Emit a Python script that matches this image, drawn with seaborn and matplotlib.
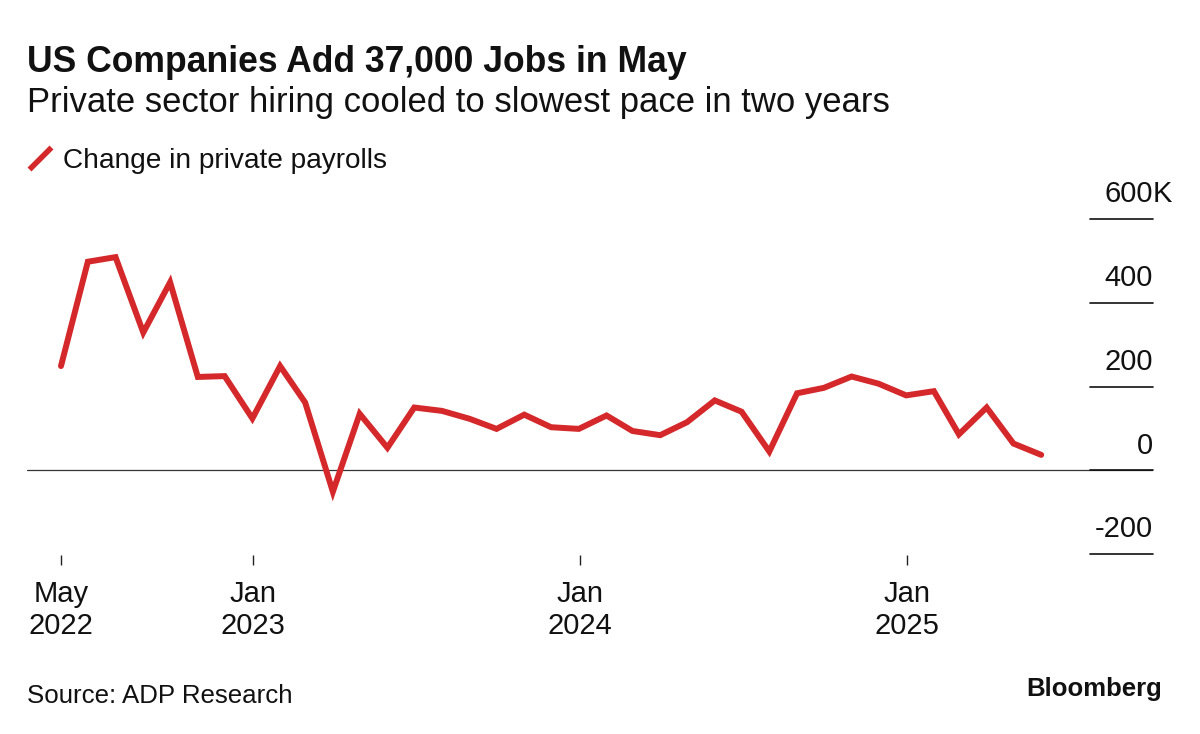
import numpy as np
import pandas as pd
import matplotlib
matplotlib.use("Agg")
import matplotlib.pyplot as plt
import seaborn as sns
from matplotlib.lines import Line2D

# ---------------- data ----------------
start_month = "2022-05-01"
n_months = 37
payroll_k = [249, 498, 509, 329, 449, 223, 225, 124, 249, 162, -51, 135, 54, 150,
             142, 123, 99, 133, 103, 99, 131, 94, 84, 115, 167, 140, 45, 184,
             197, 224, 207, 179, 189, 86, 150, 64, 37]
x_tick_dates = ["2022-05-31", "2023-01-01", "2024-01-01", "2025-01-01"]
x_tick_labels = ["May\n2022", "Jan\n2023", "Jan\n2024", "Jan\n2025"]
y_ticks = [-200, 0, 200, 400, 600]
y_tick_labels = ["-200", "0", "200", "400", "600"]
y_unit_suffix = "K"

title = "US Companies Add 37,000 Jobs in May"
subtitle = "Private sector hiring cooled to slowest pace in two years"
legend_label = "Change in private payrolls"
source = "Source: ADP Research"
brand = "Bloomberg"

RED = "#D5282B"
INK = "#111111"

dates = pd.date_range(start_month, periods=n_months, freq="MS") + pd.offsets.MonthEnd(0)
df = pd.DataFrame({"date": dates, "value": payroll_k})

# ---------------- style ----------------
sns.set_theme(style="white")
plt.rcParams["font.family"] = ["Liberation Sans", "DejaVu Sans"]
plt.rcParams["text.color"] = INK

W, H = 1200, 734
fig = plt.figure(figsize=(W / 100, H / 100), dpi=100)
fig.patch.set_facecolor("white")

ax_left, ax_right, ax_top, ax_bottom = 27, 1153, 219, 555
ax = fig.add_axes([ax_left / W, 1 - ax_bottom / H,
                   (ax_right - ax_left) / W, (ax_bottom - ax_top) / H])
ax.set_facecolor("white")

sns.lineplot(data=df, x="date", y="value", ax=ax, color=RED, linewidth=4.3,
             legend=False, solid_joinstyle="miter")

ax.set_xlim(dates[0] - pd.Timedelta(days=38), dates[-1] + pd.Timedelta(days=125))
ax.set_ylim(-202, 600)

for s in ax.spines.values():
    s.set_visible(False)

ax.set_xlabel("")
ax.set_ylabel("")
ax.set_yticks([])
ax.set_xticks(pd.to_datetime(x_tick_dates))
ax.set_xticklabels(x_tick_labels, linespacing=1.2)
ax.tick_params(axis="x", bottom=True, length=7.2, width=1.0, color="#222222",
               pad=10.5, labelsize=21, labelcolor=INK)

# zero line
ax.axhline(0, color="#333333", lw=0.9, zorder=1)

# short gridlines with labels on the right
ytr = ax.get_yaxis_transform()
for i, (v, lbl) in enumerate(zip(y_ticks, y_tick_labels)):
    ax.plot([0.944, 1.0], [v, v], transform=ytr, color=INK, lw=1.2,
            clip_on=False, zorder=2)
    ax.annotate(lbl, xy=(1.0, v), xycoords=ytr, xytext=(0, 12),
                textcoords="offset points", ha="right", va="baseline",
                fontsize=21, color=INK)
    if v == max(y_ticks):
        ax.annotate(y_unit_suffix, xy=(1.0, v), xycoords=ytr, xytext=(0, 12),
                    textcoords="offset points", ha="left", va="baseline",
                    fontsize=21, color=INK, annotation_clip=False)

# ---------------- texts ----------------
renderer = fig.canvas.get_renderer()


def fig_text(x, y, s, target_w=None, **kw):
    t = fig.text(x / W, 1 - y / H, s, va="baseline", **kw)
    if target_w is not None:
        w = t.get_window_extent(renderer).width
        t.set_fontsize(t.get_fontsize() * target_w / w)
    return t


fig_text(27, 72, title, target_w=662, fontsize=24, fontweight="bold")
fig_text(27, 112, subtitle, target_w=860, fontsize=21)
fig_text(63, 168, legend_label, target_w=324, fontsize=19)
fig_text(27, 703, source, target_w=266, fontsize=18)
fig_text(1162, 696, brand, target_w=136, fontsize=17, fontweight="bold", ha="right")

fig.add_artist(Line2D([29.5 / W, 51.5 / W], [1 - 169.5 / H, 1 - 147.5 / H],
                      color=RED, lw=4.0, solid_capstyle="butt"))

fig.savefig("out.png", dpi=100, facecolor="white")
